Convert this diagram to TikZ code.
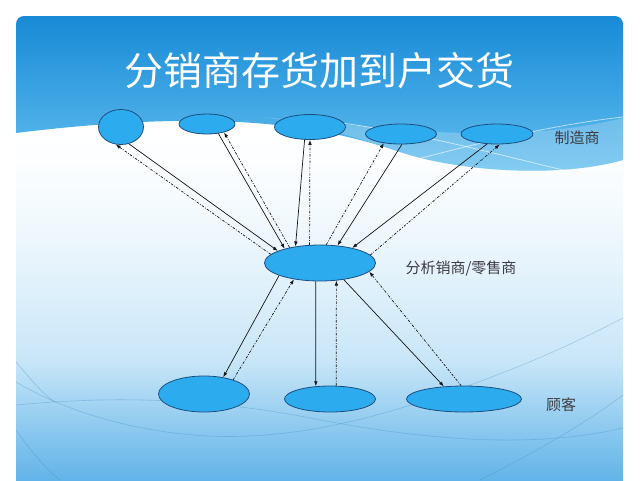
\documentclass[tikz,border=0pt]{standalone}
\usepackage{fontspec}
\newfontfamily\cjk{Noto Sans CJK SC}
\usepackage{tikz}
\usetikzlibrary{shapes.geometric,arrows.meta}
\definecolor{slTop}{RGB}{24,138,214}
\definecolor{slBand}{RGB}{100,192,240}
\definecolor{slLow}{RGB}{98,180,232}
\definecolor{slSoft}{RGB}{200,230,248}
\definecolor{slNode}{RGB}{44,172,238}
\definecolor{slEdge}{RGB}{28,78,128}
\definecolor{slInk}{RGB}{20,20,25}
\definecolor{slText}{RGB}{60,60,66}
\definecolor{slWave}{RGB}{70,140,190}
\pgfdeclareverticalshading{slideback}{100bp}{color(0bp)=(slLow); color(25bp)=(slLow);
  color(33bp)=(slLow!55!slSoft); color(42bp)=(slSoft); color(52bp)=(slSoft!60!white);
  color(62bp)=(slSoft!25!white); color(70bp)=(slSoft!6!white); color(75bp)=(white); color(100bp)=(white)}
\tikzset{
    party/.style={ellipse, draw=slEdge, fill=slNode, line width=0.8pt, inner sep=0pt},
    order/.style={-{Latex[length=5pt,width=3.6pt]}, line width=0.7pt, draw=slInk},
    supply/.style={order, dash pattern=on 2.5pt off 1.5pt on 0.8pt off 1.5pt},
    tag/.style={font=\cjk\fontsize{15}{18}\selectfont, text=slText, inner sep=0pt},
    wave/.style={draw=slWave, line width=0.6pt, opacity=0.35}
}
\begin{document}
\begin{tikzpicture}[x=1pt, y=-1pt]
  \useasboundingbox (0,0) rectangle (640,480);
  \fill[white] (0,0) rectangle (640,480);

  % Slide background
  \begin{scope}
    \clip[rounded corners=8pt] (16,16) rectangle (623,500);
    \shade[shading=slideback] (16,130) rectangle (623,480);
    \shade[top color=slTop, bottom color=slBand] (16,16) -- (623,16) -- (623,160)
      .. controls (560,178) and (460,172) .. (400,152)
      .. controls (320,125) and (220,108) .. (16,133) -- cycle;
    \fill[white, opacity=0.22] (260,117) .. controls (380,126) and (500,148) .. (623,118) -- (623,160)
      .. controls (560,178) and (460,172) .. (400,152)
      .. controls (340,132) and (300,121) .. (260,117) -- cycle;
    \draw[white, opacity=0.6, line width=0.8pt] (300,118) .. controls (400,128) and (480,150) .. (575,173);
    \draw[white, opacity=0.6, line width=0.8pt] (395,165) .. controls (470,145) and (550,125) .. (623,117);
    % Lower waves
    \draw[wave] (16,405) .. controls (110,396) and (200,398) .. (300,416) .. controls (400,436) and (520,452) .. (623,428);
    \draw[wave] (16,382) .. controls (80,420) and (170,440) .. (250,436) .. controls (330,432) and (400,410) .. (470,385) .. controls (540,360) and (590,335) .. (623,318);
    \draw[wave] (16,430) .. controls (30,450) and (45,468) .. (60,480);
    \draw[wave] (480,480) .. controls (540,450) and (590,420) .. (623,395);
    \draw[wave] (16,362) .. controls (30,378) and (40,392) .. (55,402);
  \end{scope}

  % Title
  \node[font=\cjk\fontsize{39}{44}\selectfont, text=white] (title) at (319,71) {分销商存货加到户交货};

  % Top row: manufacturers
  \node[party, minimum width=45pt, minimum height=35pt] (E1) at (121,127) {};
  \node[party, minimum width=56pt, minimum height=20pt] (E2) at (207,124) {};
  \node[party, minimum width=71pt, minimum height=25pt] (E3) at (310,127) {};
  \node[party, minimum width=71pt, minimum height=20pt] (E4) at (401,134) {};
  \node[party, minimum width=72pt, minimum height=20pt] (E5) at (497,134) {};
  \node[tag] (makers) at (577,138) {制造商};

  % Middle: distributor
  \node[party, minimum width=111pt, minimum height=36pt] (M) at (320,263) {};
  \node[tag] (seller) at (461,269) {分析销商/零售商};

  % Bottom row: customers
  \node[party, minimum width=91pt, minimum height=36pt] (B1) at (204,394) {};
  \node[party, minimum width=91pt, minimum height=26pt] (B2) at (330,399) {};
  \node[party, minimum width=115pt, minimum height=26pt] (B3) at (464,399) {};
  \node[tag] (buyers) at (561,405) {顾客};

  % Arrows up
  \draw[order] (E1.-65) -- (M.164);
  \draw[supply] (M.170) -- (E1.-107);
  \draw[order] (E2.-40) -- (M.158);
  \draw[supply] (M.153) -- (E2.-26);
  \draw[order] (E3.-113) -- (M.146);
  \draw[supply] (M.120) -- (E3.-90);
  \draw[supply] (M.71) -- (E4.-152);
  \draw[order] (E4.-85) -- (M.45);
  \draw[order] (E5.-135) -- (M.25);
  \draw[supply] (M.9) -- (E5.-75);

  % Arrows down
  \draw[order] (M.-163) -- (B1.41);
  \draw[supply] (B1.26) -- (M.-148);
  \draw[order] (M.-103) -- (B2.138);
  \draw[supply] (B2.65) -- (M.-47);
  \draw[order] (M.-35) -- (B3.148);
  \draw[supply] (B3.102) -- (M.-10);
\end{tikzpicture}
\end{document}
